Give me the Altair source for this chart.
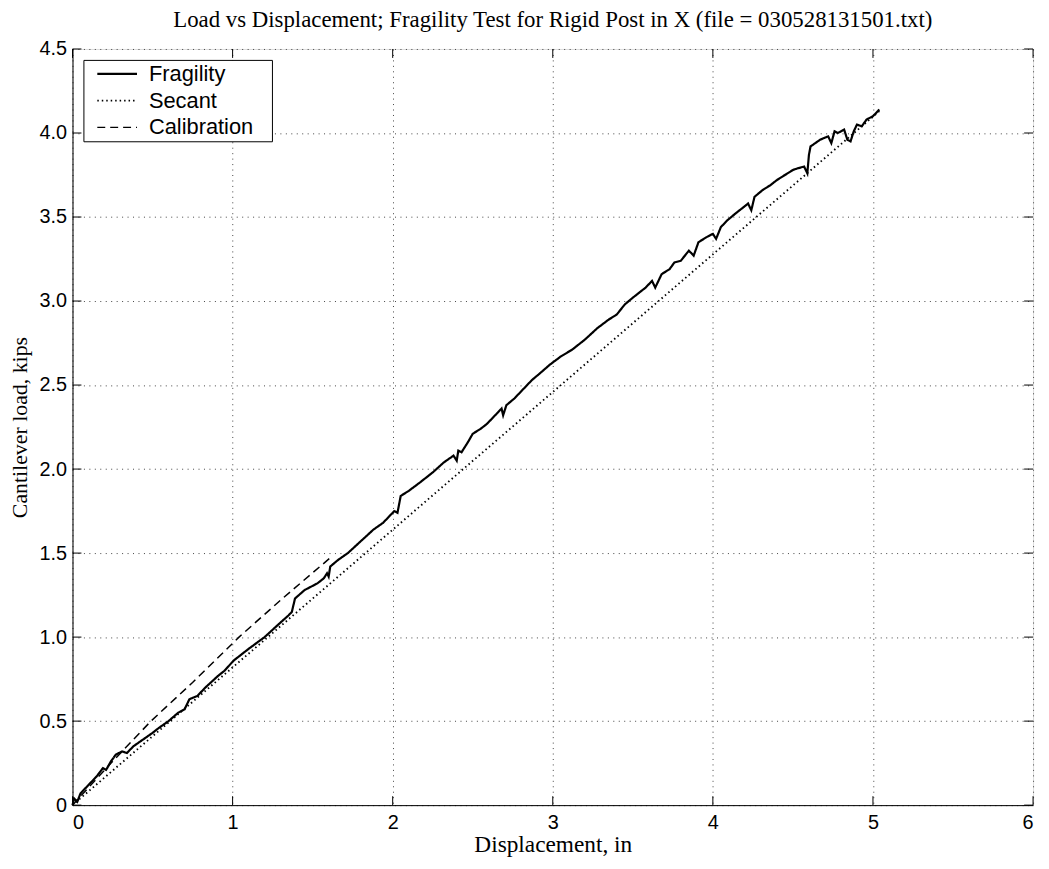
import altair as alt
import pandas as pd

# ---- data ----
frag_x = [0.00, 0.01, 0.03, 0.05, 0.10, 0.15, 0.19, 0.21, 0.24, 0.27, 0.31, 0.34, 0.38, 0.44,
          0.50, 0.54, 0.60, 0.66, 0.70, 0.73, 0.78, 0.83, 0.91, 0.95, 1.006, 1.10, 1.20, 1.28,
          1.35, 1.37, 1.39, 1.45, 1.53, 1.57, 1.59, 1.60, 1.61, 1.66, 1.72, 1.80, 1.88, 1.94,
          1.98, 2.01, 2.03, 2.05, 2.10, 2.17, 2.25, 2.32, 2.38, 2.40, 2.41, 2.43, 2.47, 2.50,
          2.55, 2.59, 2.65, 2.68, 2.69, 2.71, 2.76, 2.81, 2.87, 2.92, 2.98, 3.05, 3.12, 3.20,
          3.28, 3.35, 3.40, 3.45, 3.50, 3.58, 3.62, 3.64, 3.68, 3.73, 3.76, 3.80, 3.85, 3.88,
          3.91, 3.96, 4.00, 4.02, 4.05, 4.09, 4.14, 4.18, 4.22, 4.24, 4.26, 4.31, 4.36, 4.40,
          4.45, 4.50, 4.53, 4.57, 4.59, 4.60, 4.61, 4.67, 4.72, 4.74, 4.76, 4.78, 4.82, 4.84,
          4.86, 4.88, 4.90, 4.93, 4.96, 5.00, 5.03, 5.04]
frag_y = [0.00, 0.04, 0.02, 0.07, 0.12, 0.17, 0.22, 0.21, 0.26, 0.30, 0.32, 0.31, 0.35, 0.39,
          0.43, 0.46, 0.50, 0.55, 0.57, 0.63, 0.65, 0.70, 0.77, 0.80, 0.86, 0.93, 1.00, 1.07,
          1.13, 1.15, 1.23, 1.28, 1.32, 1.35, 1.38, 1.36, 1.42, 1.46, 1.50, 1.57, 1.64, 1.68,
          1.72, 1.75, 1.74, 1.84, 1.87, 1.92, 1.98, 2.04, 2.08, 2.05, 2.11, 2.10, 2.16, 2.21,
          2.24, 2.27, 2.33, 2.36, 2.32, 2.38, 2.42, 2.47, 2.53, 2.57, 2.62, 2.67, 2.71, 2.77,
          2.84, 2.89, 2.92, 2.98, 3.02, 3.08, 3.12, 3.08, 3.16, 3.19, 3.23, 3.24, 3.30, 3.27,
          3.35, 3.38, 3.40, 3.37, 3.44, 3.48, 3.52, 3.55, 3.58, 3.54, 3.62, 3.66, 3.69, 3.72,
          3.75, 3.78, 3.79, 3.80, 3.76, 3.87, 3.92, 3.96, 3.98, 3.94, 4.01, 4.00, 4.02, 3.96,
          3.95, 4.01, 4.05, 4.04, 4.08, 4.10, 4.13, 4.14]
sec_x = [0.0, 5.04]
sec_y = [0.0, 4.13]
cal_x = [0.0, 0.25, 0.49, 0.75, 1.04, 1.30, 1.62]
cal_y = [0.0, 0.26, 0.50, 0.73, 1.00, 1.22, 1.48]

series_names = ["Fragility", "Secant", "Calibration"]
x_ticks = [0, 1, 2, 3, 4, 5, 6]
y_ticks = [0, 0.5, 1.0, 1.5, 2.0, 2.5, 3.0, 3.5, 4.0, 4.5]

rows = []
for name, xs, ys in [("Fragility", frag_x, frag_y), ("Secant", sec_x, sec_y),
                     ("Calibration", cal_x, cal_y)]:
    for i, (a, b) in enumerate(zip(xs, ys)):
        rows.append({"series": name, "x": a, "y": b, "idx": i})
df = pd.DataFrame(rows)
xt = pd.DataFrame({"t": x_ticks})
yt = pd.DataFrame({"t": y_ticks})

W, H = 968, 762
SANS = "Liberation Sans"
SERIF = "Liberation Serif"
TICK = 9
NBSP = "\u00a0"

xscale = alt.Scale(domain=[0, 6], nice=False, zero=False)
yscale = alt.Scale(domain=[0, 4.5], nice=False, zero=False)

x_axis = alt.Axis(values=x_ticks, format="d", title="Displacement, in", ticks=False,
                  labelFont=SANS, labelFontSize=20, labelPadding=8, labelColor="black",
                  titleFont=SERIF, titleFontSize=23.5, titleFontWeight="normal",
                  titlePadding=0, titleColor="black", grid=True, gridDash=[1, 4.5],
                  gridColor="#444", gridOpacity=1, domainColor="black")
y_axis = alt.Axis(values=y_ticks, labelExpr="datum.value == 0 ? '0' : format(datum.value, '.1f')",
                  title="Cantilever load, kips", ticks=False,
                  labelFont=SANS, labelFontSize=20, labelPadding=6, labelColor="black",
                  titleFont=SERIF, titleFontSize=22, titleFontWeight="normal",
                  titlePadding=8, titleColor="black", grid=True, gridDash=[1, 4.5],
                  gridColor="#444", gridOpacity=1, domainColor="black")

lines = alt.Chart(df).mark_line().encode(
    x=alt.X("x:Q", scale=xscale, axis=x_axis),
    y=alt.Y("y:Q", scale=yscale, axis=y_axis),
    order="idx:Q",
    color=alt.value("black"),
    strokeDash=alt.StrokeDash(
        "series:N",
        scale=alt.Scale(domain=series_names, range=[[1, 0], [1.5, 3], [8, 5]]),
        legend=alt.Legend(title=NBSP, titleOrient="right", titlePadding=16, titleFontSize=4,
                          orient="none", legendX=11, legendY=11,
                          strokeColor="black", fillColor="white", padding=3,
                          labelFont=SANS, labelFontSize=22, labelColor="black",
                          symbolType="M-1,0H7", symbolSize=100, symbolStrokeWidth=2,
                          symbolStrokeColor="black", symbolOffset=5,
                          rowPadding=5, labelOffset=36),
    ),
    strokeWidth=alt.StrokeWidth(
        "series:N", scale=alt.Scale(domain=series_names, range=[2.2, 1.5, 2]), legend=None),
)

bx = alt.Chart(xt).mark_rule(color="black", strokeWidth=1).encode(
    x=alt.X("t:Q", scale=xscale), y=alt.value(H - TICK), y2=alt.value(H))
tx = alt.Chart(xt).mark_rule(color="black", strokeWidth=1).encode(
    x=alt.X("t:Q", scale=xscale), y=alt.value(0), y2=alt.value(TICK))
ly = alt.Chart(yt).mark_rule(color="black", strokeWidth=1).encode(
    y=alt.Y("t:Q", scale=yscale), x=alt.value(0), x2=alt.value(TICK))
ry = alt.Chart(yt).mark_rule(color="black", strokeWidth=1).encode(
    y=alt.Y("t:Q", scale=yscale), x=alt.value(W - TICK), x2=alt.value(W))

chart = alt.layer(lines, bx, tx, ly, ry).properties(
    width=W, height=H,
    title=alt.Title("Load vs Displacement; Fragility Test for Rigid Post in X (file = 030528131501.txt)",
                    font=SERIF, fontSize=23, fontWeight="normal", color="black", offset=7),
    autosize=alt.AutoSizeParams(type="none"),
    padding={"left": 65, "top": 38, "right": 8, "bottom": 53},
).configure_view(stroke="black", strokeWidth=1).configure(background="white")

chart.save("out.html", embed_options={"renderer": "svg", "actions": False})
